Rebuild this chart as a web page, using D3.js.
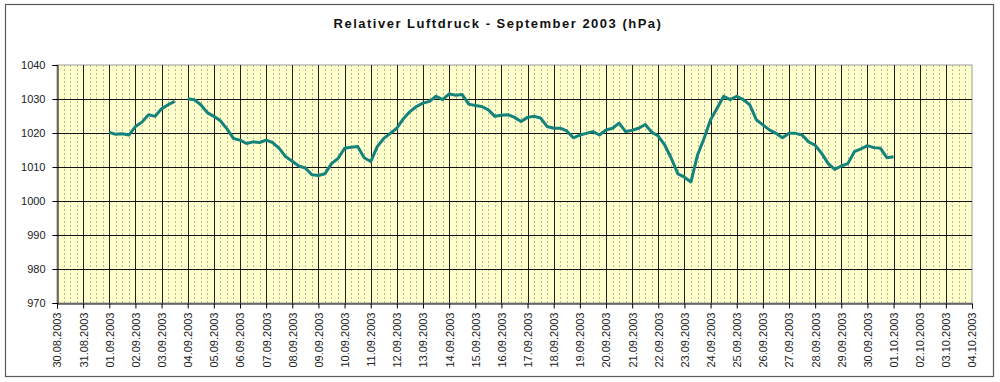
<!DOCTYPE html>
<html>
<head>
<meta charset="utf-8">
<script src="https://cdn.jsdelivr.net/npm/d3@7"></script>
<style>
  body { margin: 0; background: #fff; }
  svg { display: block; font-family: Arial, "Liberation Sans", sans-serif; }
</style>
</head>
<body>
<div id="chart"></div>
<script>
//chart data
var title = "Relativer Luftdruck - September 2003 (hPa)";
var axisStart = "2003-08-30";
var axisEnd = "2003-10-04";
var seriesStart = "2003-09-01T00:00:00Z";
var stepHours = 6;
var yTicks = [970, 980, 990, 1000, 1010, 1020, 1030, 1040];
//one row per day (00, 06, 12, 18 h), null = missing
var pressure = [
  1020.2, 1019.6, 1019.8, 1019.4,
  1021.9, 1023.2, 1025.4, 1024.9,
  1027.1, 1028.3, 1029.3, null,
  1030.1, 1029.8, 1028.3, 1026.0,
  1024.9, 1023.6, 1021.2, 1018.4,
  1017.9, 1016.9, 1017.4, 1017.2,
  1017.9, 1017.2, 1015.5, 1013.0,
  1011.7, 1010.3, 1009.7, 1007.7,
  1007.5, 1008.0, 1011.0, 1012.5,
  1015.5, 1015.8, 1016.0, 1012.7,
  1011.6, 1016.0, 1018.4, 1019.9,
  1021.4, 1024.2, 1026.3, 1027.8,
  1028.8, 1029.3, 1030.8, 1029.8,
  1031.5, 1031.1, 1031.3, 1028.5,
  1028.1, 1027.8, 1026.8, 1024.9,
  1025.2, 1025.4, 1024.6, 1023.4,
  1024.6, 1024.9, 1024.4, 1021.9,
  1021.4, 1021.4, 1020.6, 1018.6,
  1019.4, 1019.9, 1020.4, 1019.4,
  1020.9, 1021.4, 1022.9, 1020.4,
  1020.8, 1021.4, 1022.5, 1020.2,
  1019.1, 1016.4, 1012.5, 1008.0,
  1007.0, 1005.6, 1013.5, 1018.4,
  1023.9, 1027.3, 1030.8, 1029.8,
  1030.8, 1029.8, 1028.3, 1023.9,
  1022.4, 1020.9, 1019.9, 1018.6,
  1019.9, 1019.9, 1019.4, 1017.4,
  1016.4, 1014.0, 1011.0, 1009.3,
  1010.3, 1011.0, 1014.5, 1015.3,
  1016.3, 1015.7, 1015.5, 1012.7,
  1013.0
];

//svg dims
var width = 1000;
var height = 382;
var plot = { left: 57, top: 65, right: 972, bottom: 303 };

var svg = d3.select("#chart")
            .append("svg")
            .attr("width", width)
            .attr("height", height);

//outer chart frame
svg.append("rect")
   .attr("x", 5.5).attr("y", 4.5)
   .attr("width", 988).attr("height", 372)
   .attr("fill", "#fff")
   .attr("stroke", "#5a5a5a")
   .attr("stroke-width", 1.2);

//title
svg.append("text")
   .attr("x", 498).attr("y", 28)
   .attr("text-anchor", "middle")
   .attr("font-size", "13px")
   .attr("font-weight", "bold")
   .attr("letter-spacing", "1.5px")
   .attr("fill", "#111")
   .text(title);

//scales
var start = new Date(seriesStart);
var data = pressure.map((v, i) => ({ t: new Date(start.getTime() + i * stepHours * 3600000), v: v }));

var xScale = d3.scaleUtc()
               .domain([new Date(axisStart + "T00:00:00Z"), new Date(axisEnd + "T00:00:00Z")])
               .range([plot.left, plot.right]);
var yScale = d3.scaleLinear()
               .domain([970, 1040])
               .range([plot.bottom, plot.top]);

var days = d3.utcDay.range(xScale.domain()[0], d3.utcDay.offset(xScale.domain()[1], 1));
var minor = d3.utcHour.every(6).range(xScale.domain()[0], xScale.domain()[1])
              .filter(d => d.getUTCHours() !== 0);

//plot area background
svg.append("rect")
   .attr("x", plot.left).attr("y", plot.top)
   .attr("width", plot.right - plot.left).attr("height", plot.bottom - plot.top)
   .attr("fill", "#ffffcc")
   .attr("stroke", "#9a9a9a")
   .attr("stroke-width", 1);

//minor dotted grid
svg.append("g")
   .selectAll("line")
   .data(minor)
   .enter()
   .append("line")
   .attr("x1", d => Math.round(xScale(d)) + 0.5)
   .attr("x2", d => Math.round(xScale(d)) + 0.5)
   .attr("y1", plot.top)
   .attr("y2", plot.bottom)
   .attr("stroke", "#b6b6a4")
   .attr("stroke-dasharray", "2,2");

//major grid
svg.append("g")
   .selectAll("line")
   .data(days.slice(1, -1))
   .enter()
   .append("line")
   .attr("x1", d => Math.round(xScale(d)) + 0.5)
   .attr("x2", d => Math.round(xScale(d)) + 0.5)
   .attr("y1", plot.top)
   .attr("y2", plot.bottom)
   .attr("stroke", "#222");
svg.append("g")
   .selectAll("line")
   .data(yTicks.slice(1, -1))
   .enter()
   .append("line")
   .attr("x1", plot.left)
   .attr("x2", plot.right)
   .attr("y1", d => Math.round(yScale(d)) + 0.5)
   .attr("y2", d => Math.round(yScale(d)) + 0.5)
   .attr("stroke", "#111");

//axes
var yAxis = d3.axisLeft(yScale)
              .tickValues(yTicks)
              .tickFormat(d3.format("d"))
              .tickSize(5)
              .tickPadding(7);
var xAxis = d3.axisBottom(xScale)
              .tickValues(days)
              .tickFormat(d3.utcFormat("%d.%m.%Y"))
              .tickSize(5);

var gy = svg.append("g")
            .attr("transform", `translate(${plot.left + 0.5}, 0)`)
            .call(yAxis);
var gx = svg.append("g")
            .attr("transform", `translate(0, ${plot.bottom + 0.5})`)
            .call(xAxis);

[gx, gy].forEach(g => {
  g.select(".domain").attr("stroke", "#000");
  g.selectAll(".tick line").attr("stroke", "#000");
  g.selectAll("text").attr("fill", "#222").attr("font-size", "11px")
   .attr("font-family", "Arial, 'Liberation Sans', sans-serif");
});
gx.selectAll("text")
  .attr("transform", "rotate(-90)")
  .attr("text-anchor", "end")
  .attr("x", -9)
  .attr("y", 0)
  .attr("dy", "0.35em");

//pressure line
var line = d3.line()
             .defined(d => d.v !== null)
             .x(d => xScale(d.t))
             .y(d => yScale(d.v));
svg.append("path")
   .datum(data)
   .attr("d", line)
   .attr("fill", "none")
   .attr("stroke", "#13837c")
   .attr("stroke-width", 3)
   .attr("stroke-linejoin", "round");
</script>
</body>
</html>
